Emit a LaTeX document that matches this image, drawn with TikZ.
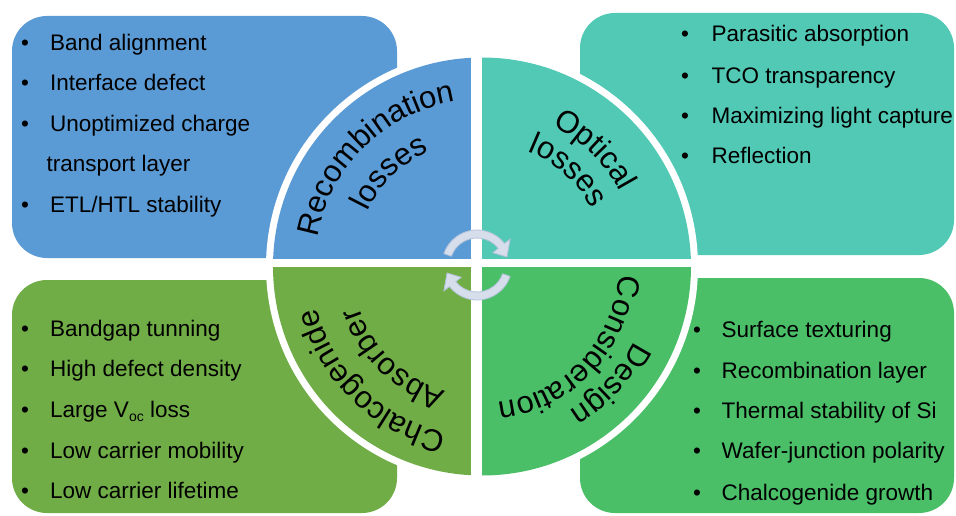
\documentclass[tikz,border=0pt]{standalone}
\usepackage{fontspec}
\setmainfont{Liberation Sans}
\usetikzlibrary{decorations.text}
\definecolor{qblue}{HTML}{5B9BD5}
\definecolor{qteal}{HTML}{52C9B5}
\definecolor{qgreenA}{HTML}{70AD47}
\definecolor{qgreenB}{HTML}{4ABF68}
\definecolor{arrowfill}{HTML}{D6DEEC}
\definecolor{arrowedge}{HTML}{B4C3DC}
\newcommand{\ttlfont}{\fontsize{31}{31}\selectfont}
\begin{document}
\begin{tikzpicture}[x=1pt,y=1pt,
  box/.style={rounded corners=35pt},
  item/.style={anchor=base west, inner sep=0pt, font=\fontsize{22.5}{26}\selectfont},
  bul/.style={anchor=base, inner sep=0pt, font=\fontsize{22.5}{26}\selectfont},
  arctext/.style={decorate, decoration={text along path, text align=center, text={|\ttlfont|#1}}},
  cyc/.style={fill=arrowfill, draw=arrowedge, line width=0.8pt}
]
\useasboundingbox (0,0) rectangle (956,515);
\fill[white] (0,0) rectangle (956,515);
% boxes
\fill[qblue, box] (12,257) rectangle (397,499);
\fill[qteal, box] (580,260) rectangle (954,502);
\fill[qgreenA, box] (12,2) rectangle (397,235);
\fill[qgreenB, box] (580,2) rectangle (954,237);
% white ring
\coordinate (C) at (482,248.5);
\fill[white] (C) circle (216pt);
% quadrants
\begin{scope}
  \clip (C) circle (209pt);
  \fill[qblue] (0,256) rectangle (471,515);
  \fill[qteal] (482,256) rectangle (956,515);
  \fill[qgreenA] (0,0) rectangle (471,248);
  \fill[qgreenB] (482,0) rectangle (956,248);
\end{scope}
% curved titles
\path[arctext={Recombination}] (C) ++(204.5:167pt) arc[start angle=204.5, end angle=64.5, radius=167pt];
\path[arctext={losses}] (C) ++(204.5:127pt) arc[start angle=204.5, end angle=64.5, radius=127pt];
\path[arctext={Optical}] (C) ++(116:157pt) arc[start angle=116, end angle=-24, radius=157pt];
\path[arctext={losses}] (C) ++(118:124pt) arc[start angle=118, end angle=-22, radius=124pt];
\path[arctext={Chalcogenide}] (C) ++(296:170pt) arc[start angle=296, end angle=156, radius=170pt];
\path[arctext={Absorber}] (C) ++(296:130pt) arc[start angle=296, end angle=156, radius=130pt];
\path[arctext={Design}] (C) ++(27.5:169pt) arc[start angle=27.5, end angle=-112.5, radius=169pt];
\path[arctext={Consideration}] (C) ++(26.5:137pt) arc[start angle=26.5, end angle=-113.5, radius=137pt];
% cycle arrows
\coordinate (A) at (477,250);
\begin{scope}[shift={(A)}]
  \filldraw[cyc] (161:35pt) arc[start angle=161, end angle=38, radius=35pt] -- (38:42pt) -- (15:31pt) -- (38:20pt) -- (38:27pt) arc[start angle=38, end angle=161, radius=27pt] -- cycle;
\end{scope}
\begin{scope}[shift={(A)}, rotate=180]
  \filldraw[cyc] (161:35pt) arc[start angle=161, end angle=38, radius=35pt] -- (38:42pt) -- (15:31pt) -- (38:20pt) -- (38:27pt) arc[start angle=38, end angle=161, radius=27pt] -- cycle;
\end{scope}
% top-left list
\node[bul] (b11) at (25,464.3) {\textbullet};
\node[item] (t11) at (50,464.3) {Band alignment};
\node[bul] (b12) at (25,424.3) {\textbullet};
\node[item] (t12) at (50,424.3) {Interface defect};
\node[bul] (b13) at (25,383) {\textbullet};
\node[item] (t13) at (50,383) {Unoptimized charge};
\node[item] (t14) at (46.5,343) {transport layer};
\node[bul] (b15) at (25,302) {\textbullet};
\node[item] (t15) at (50,302) {ETL/HTL stability};
% top-right list
\node[bul] (b21) at (685,473.3) {\textbullet};
\node[item] (t21) at (711.5,473.3) {Parasitic absorption};
\node[bul] (b22) at (685,431.7) {\textbullet};
\node[item] (t22) at (711.5,431.7) {TCO transparency};
\node[bul] (b23) at (685,391) {\textbullet};
\node[item] (t23) at (711.5,391) {Maximizing light capture};
\node[bul] (b24) at (685,351) {\textbullet};
\node[item] (t24) at (711.5,351) {Reflection};
% bottom-left list
\node[bul] (b31) at (25,178.3) {\textbullet};
\node[item] (t31) at (50,178.3) {Bandgap tunning};
\node[bul] (b32) at (25,138.3) {\textbullet};
\node[item] (t32) at (50,138.3) {High defect density};
\node[bul] (b33) at (25,97.7) {\textbullet};
\node[item] (t33) at (50,97.7) {Large V\raisebox{-0.2em}{\fontsize{14}{14}\selectfont oc} loss};
\node[bul] (b34) at (25,56.7) {\textbullet};
\node[item] (t34) at (50,56.7) {Low carrier mobility};
\node[bul] (b35) at (25,16.7) {\textbullet};
\node[item] (t35) at (50,16.7) {Low carrier lifetime};
% bottom-right list
\node[bul] (b41) at (697,177.7) {\textbullet};
\node[item] (t41) at (721.5,177.7) {Surface texturing};
\node[bul] (b42) at (697,136.7) {\textbullet};
\node[item] (t42) at (721.5,136.7) {Recombination layer};
\node[bul] (b43) at (697,96.7) {\textbullet};
\node[item] (t43) at (721.5,96.7) {Thermal stability of Si};
\node[bul] (b44) at (697,56.7) {\textbullet};
\node[item] (t44) at (721.5,56.7) {Wafer-junction polarity};
\node[bul] (b45) at (697,15) {\textbullet};
\node[item] (t45) at (721.5,15) {Chalcogenide growth};
\end{tikzpicture}
\end{document}
